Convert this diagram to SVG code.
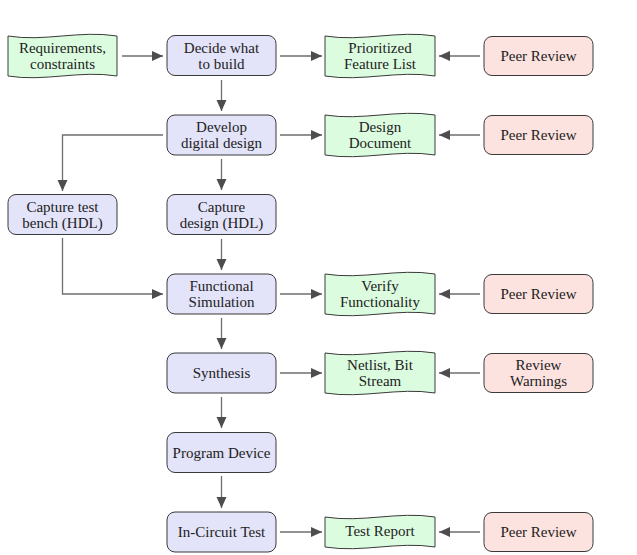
<svg xmlns="http://www.w3.org/2000/svg" width="637" height="555" viewBox="0 0 637 555">
<style>
text{font-family:"Liberation Serif","Times New Roman",serif;font-size:15px;fill:#222;text-anchor:middle}
.proc{fill:#e3e3f9;stroke:#3a3a3a;stroke-width:1}
.doc{fill:#dcfcdf;stroke:#3a3a3a;stroke-width:1}
.rev{fill:#fde3e0;stroke:#3a3a3a;stroke-width:1}
.c{fill:none;stroke:#6e6e6e;stroke-width:1.3;marker-end:url(#ah)}
</style>
<defs>
<marker id="ah" markerUnits="userSpaceOnUse" markerWidth="12" markerHeight="11" refX="11" refY="5" orient="auto">
<path d="M0,0 L11,5 L0,10 Z" fill="#4d4d4d"/>
</marker>
</defs>
<rect width="637" height="555" fill="#fff"/>

<g id="connectors">
<path class="c" d="M122,56 H163"/>
<path class="c" d="M280,56 H322"/>
<path class="c" d="M480,56 H439"/>
<path class="c" d="M221.5,80 V111"/>
<path class="c" d="M280,135 H322"/>
<path class="c" d="M480,135 H439"/>
<path class="c" d="M163,135 H62.5 V191"/>
<path class="c" d="M221.5,159 V190"/>
<path class="c" d="M221.5,239 V270"/>
<path class="c" d="M62.5,238 V294 H163"/>
<path class="c" d="M280,294 H322"/>
<path class="c" d="M480,294 H439"/>
<path class="c" d="M221.5,318 V349"/>
<path class="c" d="M280,373 H322"/>
<path class="c" d="M480,373 H439"/>
<path class="c" d="M221.5,397 V428"/>
<path class="c" d="M221.5,476 V508"/>
<path class="c" d="M280,532 H322"/>
<path class="c" d="M480,532 H439"/>
</g>

<g id="requirements">
<path class="doc" d="M8,36 C44,42 80,30 117,36 V76 C80,70 44,82 8,76 Z"/>
<text x="62.5" y="53">Requirements,</text>
<text x="62.5" y="69">constraints</text>
</g>
<g id="decide">
<rect class="proc" x="167" y="35.5" width="109" height="40" rx="8"/>
<text x="221.5" y="53">Decide what</text>
<text x="221.5" y="69">to build</text>
</g>
<g id="prioritized">
<path class="doc" d="M325,36 C362,42 398,30 435,36 V76 C398,70 362,82 325,76 Z"/>
<text x="380" y="53">Prioritized</text>
<text x="380" y="69">Feature List</text>
</g>
<g id="review1">
<rect class="rev" x="484" y="36.5" width="109" height="39" rx="8"/>
<text x="538.5" y="61">Peer Review</text>
</g>

<g id="develop">
<rect class="proc" x="167" y="115" width="109" height="40" rx="8"/>
<text x="221.5" y="132">Develop</text>
<text x="221.5" y="148">digital design</text>
</g>
<g id="design-doc">
<path class="doc" d="M325,115 C362,121 398,109 435,115 V155 C398,149 362,161 325,155 Z"/>
<text x="380" y="132">Design</text>
<text x="380" y="148">Document</text>
</g>
<g id="review2">
<rect class="rev" x="484" y="115.5" width="109" height="39" rx="8"/>
<text x="538.5" y="140">Peer Review</text>
</g>

<g id="testbench">
<rect class="proc" x="8" y="194.5" width="109" height="40" rx="8"/>
<text x="62.5" y="212">Capture test</text>
<text x="62.5" y="228">bench (HDL)</text>
</g>
<g id="capture">
<rect class="proc" x="167" y="194.5" width="109" height="40" rx="8"/>
<text x="221.5" y="212">Capture</text>
<text x="221.5" y="228">design (HDL)</text>
</g>

<g id="funcsim">
<rect class="proc" x="167" y="274" width="109" height="40" rx="8"/>
<text x="221.5" y="291">Functional</text>
<text x="221.5" y="307">Simulation</text>
</g>
<g id="verify">
<path class="doc" d="M325,274 C362,280 398,268 435,274 V314 C398,308 362,320 325,314 Z"/>
<text x="380" y="291">Verify</text>
<text x="380" y="307">Functionality</text>
</g>
<g id="review3">
<rect class="rev" x="484" y="274.5" width="109" height="39" rx="8"/>
<text x="538.5" y="299">Peer Review</text>
</g>

<g id="synthesis">
<rect class="proc" x="167" y="353" width="109" height="40" rx="8"/>
<text x="221.5" y="378">Synthesis</text>
</g>
<g id="netlist">
<path class="doc" d="M325,353 C362,359 398,347 435,353 V393 C398,387 362,399 325,393 Z"/>
<text x="380" y="370">Netlist, Bit</text>
<text x="380" y="386">Stream</text>
</g>
<g id="warnings">
<rect class="rev" x="484" y="353.5" width="109" height="39" rx="8"/>
<text x="538.5" y="370">Review</text>
<text x="538.5" y="386">Warnings</text>
</g>

<g id="program">
<rect class="proc" x="167" y="432.5" width="109" height="40" rx="8"/>
<text x="221.5" y="457.5">Program Device</text>
</g>

<g id="incircuit">
<rect class="proc" x="167" y="512" width="109" height="40" rx="8"/>
<text x="221.5" y="537">In-Circuit Test</text>
</g>
<g id="testreport">
<path class="doc" d="M325,517 C362,523 398,511 435,517 V547 C398,541 362,553 325,547 Z"/>
<text x="380" y="536">Test Report</text>
</g>
<g id="review4">
<rect class="rev" x="484" y="512.5" width="109" height="39" rx="8"/>
<text x="538.5" y="537">Peer Review</text>
</g>
</svg>
